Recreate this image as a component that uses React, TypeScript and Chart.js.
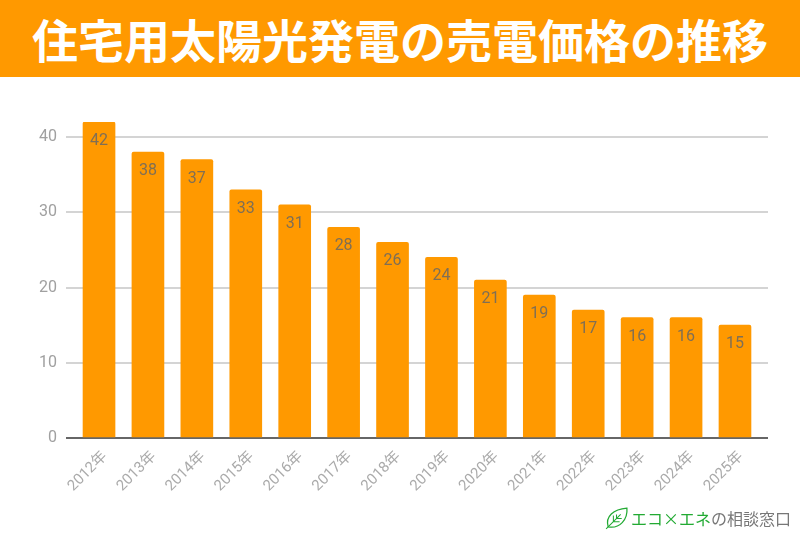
import React, { useEffect, useRef } from "react";
import { Chart, registerables } from "chart.js";

Chart.register(...registerables);

const titleText = "住宅用太陽光発電の売電価格の推移";
const categories = ["2012年", "2013年", "2014年", "2015年", "2016年", "2017年", "2018年", "2019年", "2020年", "2021年", "2022年", "2023年", "2024年", "2025年"];
const prices = [42, 38, 37, 33, 31, 28, 26, 24, 21, 19, 17, 16, 16, 15];
const yTicks = [0, 10, 20, 30, 40];
const FONT = "Roboto, 'Noto Sans CJK JP', sans-serif";

const barLabels = {
  id: "barLabels",
  afterDatasetsDraw(chart: any) {
    const { ctx } = chart;
    const meta = chart.getDatasetMeta(0);
    ctx.save();
    ctx.fillStyle = "#7f6f55";
    ctx.font = `16px ${FONT}`;
    ctx.textAlign = "center";
    ctx.textBaseline = "middle";
    meta.data.forEach((bar: any, i: number) => {
      ctx.fillText(String(prices[i]), bar.x, bar.y + 19);
    });
    ctx.restore();
  },
};

export default function App() {
  const ref = useRef<HTMLCanvasElement | null>(null);
  useEffect(() => {
    if (!ref.current) return;
    const chart = new Chart(ref.current, {
      type: "bar",
      data: {
        datasets: [
          {
            data: prices.map((y, x) => ({ x, y })),
            backgroundColor: "#ff9900",
            barThickness: 32,
            borderRadius: 2,
            borderSkipped: "bottom",
          },
        ],
      },
      options: {
        animation: false,
        responsive: false,
        devicePixelRatio: 1,
        parsing: false,
        layout: { padding: { top: 122, right: 32, left: 0, bottom: 0 } },
        plugins: { legend: { display: false }, tooltip: { enabled: false } },
        scales: {
          x: {
            type: "linear",
            offset: false,
            min: -0.675,
            max: 13.675,
            afterFit: (s: any) => { s.height = 95; },
            afterBuildTicks: (s: any) => { s.ticks = categories.map((_, value) => ({ value })); },
            grid: { display: false },
            border: { display: false },
            ticks: {
              autoSkip: false,
              minRotation: 45,
              maxRotation: 45,
              color: "#aaaaaa",
              padding: 2,
              labelOffset: 6,
              font: { family: FONT, size: 15 },
              callback: (v: any) => categories[v] ?? "",
            },
          },
          y: {
            min: 0,
            max: 42,
            afterFit: (s: any) => { s.width = 66; },
            afterBuildTicks: (s: any) => { s.ticks = yTicks.map((value) => ({ value })); },
            border: { display: false },
            grid: {
              color: (c: any) => (c.tick.value === 0 ? "#666666" : "#d4d4d4"),
              lineWidth: 2,
              drawTicks: false,
            },
            ticks: {
              color: "#a0a0a0",
              padding: 9,
              font: { family: FONT, size: 16 },
            },
          },
        },
      },
      plugins: [barLabels],
    } as any);
    return () => chart.destroy();
  }, []);

  return (
    <div style={{ position: "fixed", left: 0, top: 0, width: 800, height: 533, background: "#fff", overflow: "hidden" }}>
      <canvas ref={ref} width={800} height={533} style={{ position: "absolute", left: 0, top: 0 }} />
      <div
        style={{
          position: "absolute", left: 0, top: 0, width: 800, height: 77, background: "#ff9900", color: "#fff",
          fontFamily: "'Noto Sans CJK JP', sans-serif", fontWeight: 700, fontSize: 46, lineHeight: "77px",
          textAlign: "center", whiteSpace: "nowrap",
        }}
      >
        {titleText}
      </div>
      <svg width="25" height="25" viewBox="0 0 24 24" style={{ position: "absolute", left: 604, top: 505 }}>
        <path d="M4 21 C1 11 9 4 22 3 C23 14 15 23 4 21 Z" fill="none" stroke="#22aa33" strokeWidth="1.2" />
        <path d="M2 23 L16 9 M9 16 L9 10 M9 16 L15 16 M12 13 L12 9 M12 13 L17 13" fill="none" stroke="#22aa33" strokeWidth="1" />
      </svg>
      <div
        style={{
          position: "absolute", left: 631, top: 505, width: 165, height: 26, lineHeight: "26px", whiteSpace: "nowrap",
          fontFamily: "'Noto Sans CJK JP', sans-serif", fontSize: 16, color: "#777",
        }}
      >
        <span style={{ color: "#22aa33" }}>エコ×エネ</span>
        <span>の相談窓口</span>
      </div>
    </div>
  );
}
